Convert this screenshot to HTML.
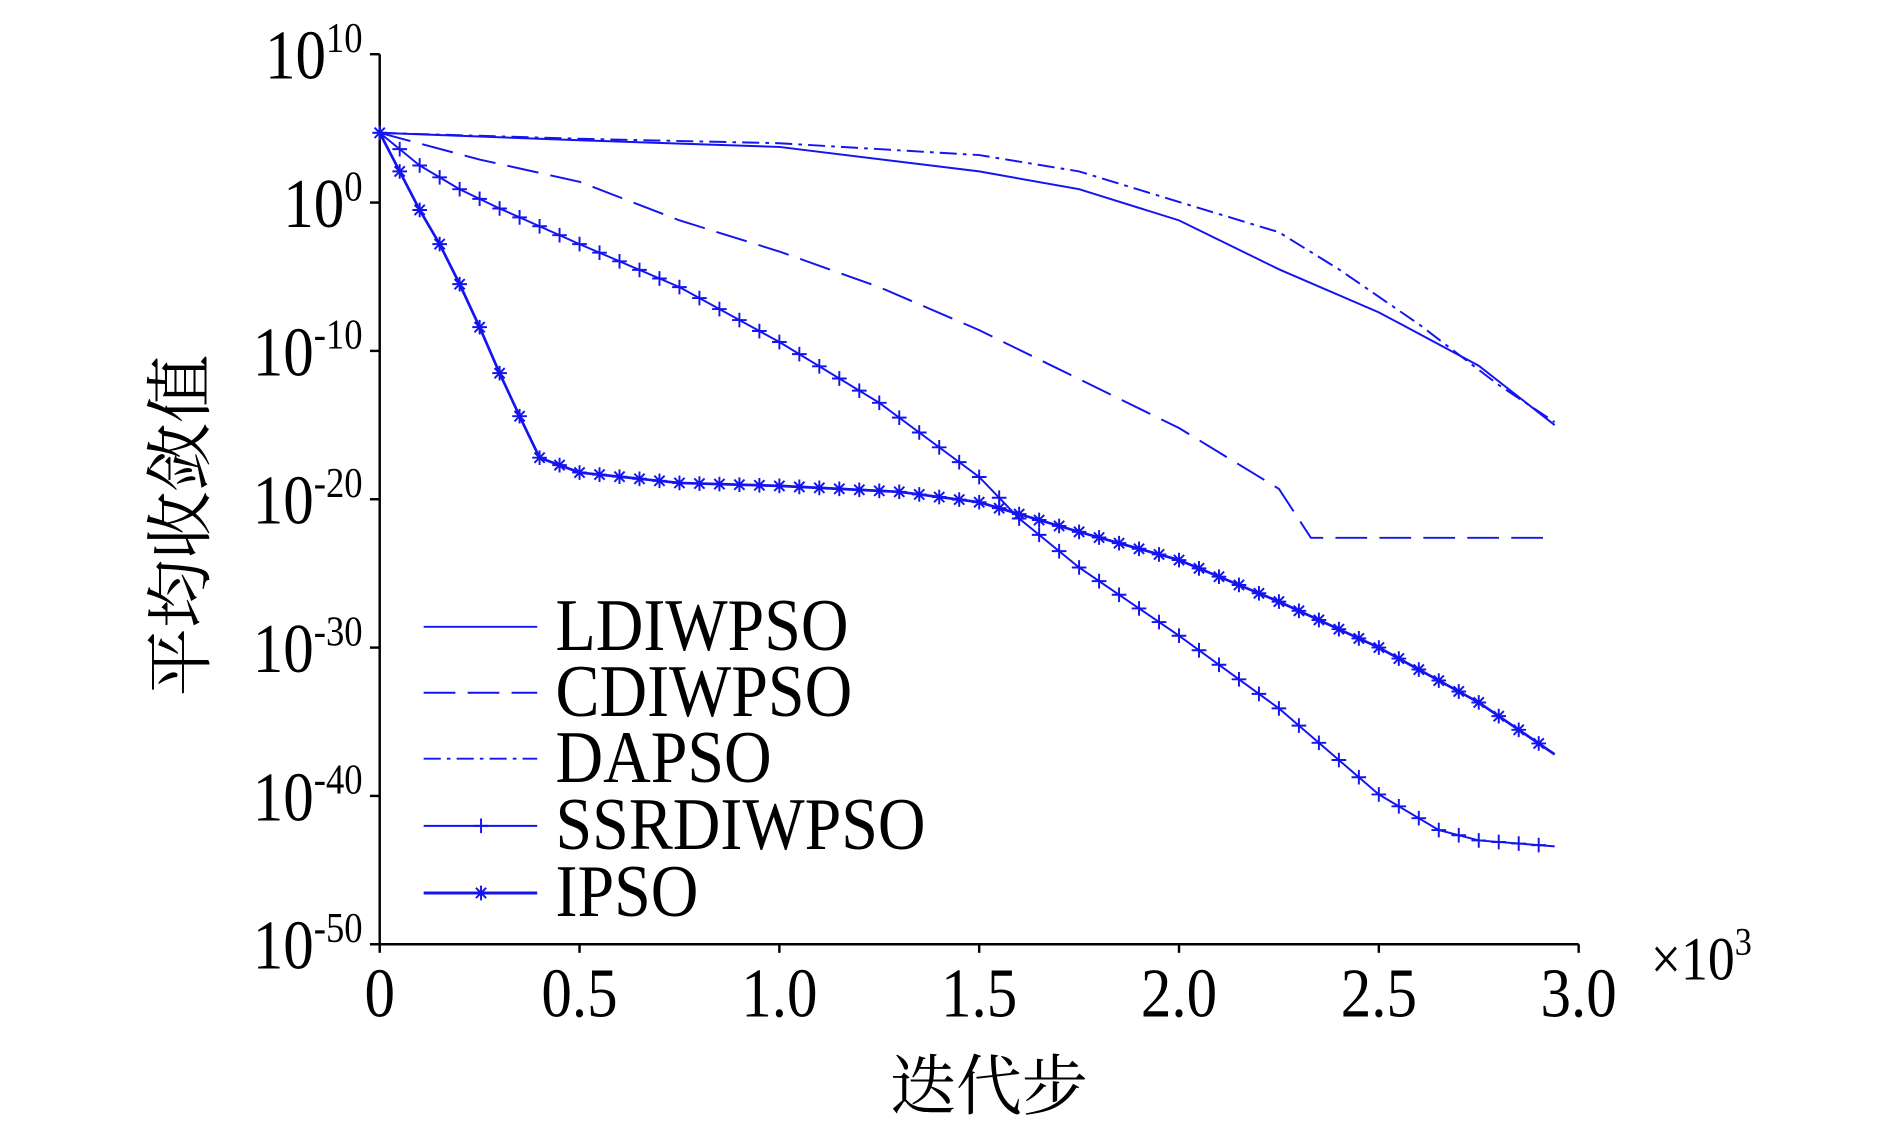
<!DOCTYPE html>
<html><head><meta charset="utf-8"><style>
html,body{margin:0;padding:0;background:#fff;}
svg{display:block;}
text{font-family:"Liberation Serif","Noto Serif CJK SC",serif;fill:#000;}
</style></head><body>
<svg id="chart" width="1890" height="1134" viewBox="0 0 1548 928" xmlns="http://www.w3.org/2000/svg">
<g id="axes"></g>
<g id="series"></g>
<g id="legend"></g>
</svg>
<script>
const xTicks=[0,0.5,1.0,1.5,2.0,2.5,3.0];
const xTickLabels=["0","0.5","1.0","1.5","2.0","2.5","3.0"];
const yTicks=[10,0,-10,-20,-30,-40,-50];
const seriesNames=["LDIWPSO","CDIWPSO","DAPSO","SSRDIWPSO","IPSO"];
const ldiwX=[0,0.5,1.0,1.5,1.75,2.0,2.25,2.5,2.75,2.94];
const ldiwY=[4.7,4.2,3.75,2.1,0.9,-1.2,-4.5,-7.4,-11,-15];
const cdiwX=[0,0.25,0.5,0.75,1.0,1.25,1.5,1.75,2.0,2.25,2.33,2.37,2.94];
const cdiwY=[4.7,2.9,1.4,-1.2,-3.3,-5.7,-8.6,-11.9,-15.2,-19.3,-22.6,-22.6,-22.6];
const dapsoX=[0,0.5,1.0,1.5,1.75,2.0,2.25,2.4,2.6,2.8,2.94];
const dapsoY=[4.7,4.3,4.0,3.2,2.1,0.04,-2,-4.5,-8.2,-12.3,-14.8];
const ssrX=[0,0.1,0.2,0.3,0.5,0.75,1.0,1.25,1.5,1.6,1.75,2.0,2.25,2.5,2.65,2.75,2.94];
const ssrY=[4.7,2.5,0.9,-0.4,-2.8,-5.7,-9.4,-13.5,-18.5,-21.3,-24.6,-29.2,-34.1,-39.9,-42.3,-43,-43.4];
const ipsoX=[0,0.05,0.1,0.15,0.2,0.25,0.3,0.35,0.4,0.5,0.75,1.0,1.3,1.5,1.75,2.0,2.25,2.5,2.75,2.94];
const ipsoY=[4.7,2.1,-0.5,-2.8,-5.5,-8.4,-11.5,-14.4,-17.2,-18.2,-18.9,-19.1,-19.5,-20.2,-22.2,-24.1,-26.9,-30,-33.7,-37.2];

const NS="http://www.w3.org/2000/svg";
const C="#1414f0";
const X0=311,X1=1293,Y0=44,Y1=773;
const sx=v=>X0+(v/3)*(X1-X0);
const sy=e=>Y0+(10-e)/60*(Y1-Y0);
function mk(tag,attrs,parent){const el=document.createElementNS(NS,tag);for(const k in attrs)el.setAttribute(k,attrs[k]);parent.appendChild(el);return el;}
const axes=document.getElementById('axes');
let el=mk('line',{x1:X0,y1:Y0,x2:X0,y2:Y1,stroke:'#000','stroke-width':2},axes);


el=mk('line',{x1:X0,y1:Y1,x2:X1,y2:Y1,stroke:'#000','stroke-width':2},axes);


yTicks.forEach((e,i)=>{
  const y=sy(e);
  let t=mk('line',{x1:X0-8,y1:y,x2:X0,y2:y,stroke:'#000','stroke-width':2},axes);
  
  
  const lab=mk('text',{x:0,y:0,'font-size':50,'text-anchor':'end',transform:`translate(297,${y+20}) scale(1,1.15)`},axes);
  
  
  lab.innerHTML='10<tspan dy="-19" font-size="30">'+String(e)+'</tspan>';
});
xTicks.forEach((v,i)=>{
  const x=sx(v);
  let t=mk('line',{x1:x,y1:Y1,x2:x,y2:Y1+7,stroke:'#000','stroke-width':2},axes);
  
  
  const lab=mk('text',{x:0,y:0,'font-size':50,'text-anchor':'middle',transform:`translate(${x},832) scale(1,1.15)`},axes);
  lab.textContent=xTickLabels[i];
  
  
});
el=mk('text',{x:0,y:0,'font-size':44,transform:'translate(1352,802) scale(1,1.15)'},axes);
el.innerHTML='×10<tspan dy="-18" font-size="28">3</tspan>';


el=mk('text',{x:810,y:908,'font-size':54,'text-anchor':'middle'},axes);
el.textContent='迭代步';


el=mk('text',{x:0,y:0,'font-size':56,'text-anchor':'middle',transform:'translate(167,430) rotate(-90)'},axes);
el.textContent='平均收敛值';



const sg=document.getElementById('series');
const styles=[{dash:''},{dash:'26,10'},{dash:'14,5,3,5'},{dash:'',m:'plus'},{dash:'',m:'star'}];
const data=[[ldiwX,ldiwY],[cdiwX,cdiwY],[dapsoX,dapsoY],[ssrX,ssrY],[ipsoX,ipsoY]];
function marker(type,x,y,g){
  const r=6;
  let s='';
  if(type==='plus') s=`M${x-r},${y}H${x+r}M${x},${y-r}V${y+r}`;
  else s=`M${x-r},${y}H${x+r}M${x},${y-r}V${y+r}M${x-r*0.7},${y-r*0.7}L${x+r*0.7},${y+r*0.7}M${x-r*0.7},${y+r*0.7}L${x+r*0.7},${y-r*0.7}`;
  const p=mk('path',{d:s,stroke:C,'stroke-width':1.6,fill:'none'},g);
  
  
}
function interp(xs,ys,v){for(let i=1;i<xs.length;i++){if(v<=xs[i]){const t=(v-xs[i-1])/(xs[i]-xs[i-1]);return ys[i-1]+t*(ys[i]-ys[i-1]);}}return ys[ys.length-1];}
data.forEach((d,k)=>{
  const [xs,ys]=d;
  const g=mk('g',{},sg);
  
  
  const pts=xs.map((v,i)=>sx(v)+','+sy(ys[i])).join(' ');
  const pl=mk('polyline',{points:pts,fill:'none',stroke:C,'stroke-width':k===4?2.2:1.6,'stroke-dasharray':styles[k].dash},g);
  
  
  if(styles[k].m){
    const end=xs[xs.length-1];
    for(let v=0;v<=end+1e-9;v+=0.05){marker(styles[k].m,sx(v),sy(interp(xs,ys,v)),g);}
  }
});
const lg=document.getElementById('legend');
const ly=[513,567,621,676,731];
seriesNames.forEach((n,k)=>{
  const g=mk('g',{},lg);
  
  
  mk('line',{x1:347,y1:ly[k],x2:440,y2:ly[k],stroke:C,'stroke-width':k===4?2.4:1.6,'stroke-dasharray':styles[k].dash},g);
  if(styles[k].m) marker(styles[k].m,394,ly[k],g);
  const t=mk('text',{x:0,y:0,'font-size':54,transform:`translate(455,${ly[k]+19}) scale(1,1.12)`},g);
  t.textContent=n;
});
</script>
</body></html>
